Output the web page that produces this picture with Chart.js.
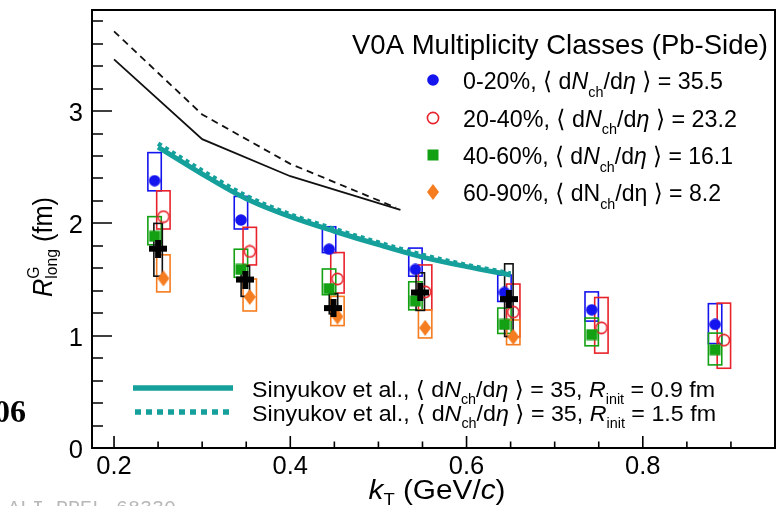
<!DOCTYPE html>
<html><head><meta charset="utf-8">
<script src="https://cdn.jsdelivr.net/npm/chart.js@4.4.0/dist/chart.umd.min.js"></script>
<style>html,body{margin:0;padding:0;background:#fff;overflow:hidden}</style>
</head><body>
<canvas id="c" width="784" height="506"></canvas>
<script>
// ---------- data ----------
const xTicks = [0.2, 0.4, 0.6, 0.8];
const yTicks = [0, 1, 2, 3];
const xLabels = ['0.2', '0.4', '0.6', '0.8'];
const yLabels = ['0', '1', '2', '3'];

// 0-20%
const kT_c1 = [0.246, 0.344, 0.444, 0.542, 0.643, 0.742, 0.882];
const R_c1 = [2.38, 2.03, 1.77, 1.59, 1.385, 1.23, 1.10];
const lo_c1 = [2.29, 1.95, 1.74, 1.53, 1.305, 1.13, 0.93];
const hi_c1 = [2.63, 2.24, 1.97, 1.78, 1.54, 1.39, 1.285];
// 20-40%
const kT_c2 = [0.256, 0.354, 0.4535, 0.553, 0.653, 0.753, 0.892];
const R_c2 = [2.06, 1.75, 1.505, 1.39, 1.21, 1.07, 0.96];
const lo_c2 = [1.95, 1.63, 1.38, 1.23, 0.99, 0.845, 0.71];
const hi_c2 = [2.29, 1.965, 1.74, 1.63, 1.46, 1.34, 1.29];
// 40-60%
const kT_c3 = [0.246, 0.344, 0.444, 0.542, 0.643, 0.742, 0.882];
const R_c3 = [1.885, 1.59, 1.42, 1.31, 1.10, 1.01, 0.875];
const lo_c3 = [1.81, 1.52, 1.365, 1.23, 1.02, 0.91, 0.74];
const hi_c3 = [2.06, 1.77, 1.594, 1.48, 1.246, 1.157, 1.023];
// 60-90%
const kT_c4 = [0.256, 0.354, 0.4535, 0.553, 0.653];
const R_c4 = [1.51, 1.345, 1.17, 1.07, 0.99];
const lo_c4 = [1.39, 1.22, 1.09, 0.98, 0.92];
const hi_c4 = [1.72, 1.505, 1.35, 1.23, 1.14];
// black crosses
const kT_blk = [0.25, 0.349, 0.449, 0.5475, 0.648];
const R_blk = [1.775, 1.50, 1.246, 1.385, 1.326];
const lo_blk = [1.53, 1.35, 1.195, 1.225, 0.993];
const hi_blk = [2.0, 1.62, 1.374, 1.56, 1.64];

// model curves
const kT_hSolid = [0.2, 0.3, 0.4, 0.525];
const R_hSolid = [3.46, 2.75, 2.42, 2.12];
const kT_hDash = [0.2, 0.3, 0.4, 0.52];
const R_hDash = [3.71, 2.97, 2.53, 2.14];
const kT_siny = [0.25, 0.3, 0.35, 0.4, 0.45, 0.5, 0.55, 0.6, 0.65];
const R_siny09 = [2.68, 2.44, 2.22, 2.06, 1.93, 1.81, 1.70, 1.615, 1.54];
const R_siny15 = [2.71, 2.47, 2.245, 2.08, 1.95, 1.83, 1.72, 1.63, 1.555];

// ---------- styles ----------
const C = {blue:'#1414ee', red:'#e8222a', green:'#13a013', orange:'#f57c1f', black:'#000', teal:'#15a09b'};
const FONT = '"Liberation Sans","DejaVu Sans",Arial,sans-serif';

function mk(w,h,draw){const c=document.createElement('canvas');c.width=w;c.height=h;draw(c.getContext('2d'),w,h);return c;}
const mBlue = mk(12,12,g=>{g.fillStyle=C.blue;g.beginPath();g.arc(6,6,5.8,0,2*Math.PI);g.fill();});
const mRed = mk(14,14,g=>{g.strokeStyle=C.red;g.lineWidth=1.6;g.beginPath();g.arc(7,7,5.6,0,2*Math.PI);g.stroke();});
const mGreen = mk(12,12,g=>{g.fillStyle=C.green;g.fillRect(0.5,0.5,11,11);});
const mOrange = mk(12,16,g=>{g.fillStyle=C.orange;g.beginPath();g.moveTo(6,0);g.lineTo(12,8);g.lineTo(6,16);g.lineTo(0,8);g.closePath();g.fill();});
const mCross = mk(18,18,g=>{g.fillStyle='#000';g.fillRect(6,0,6,18);g.fillRect(0,6,18,6);});

function pts(xs, ys){return xs.map((x,i)=>({x:x, y:ys[i]}));}

const boxSets = [
  {kT:kT_c1, lo:lo_c1, hi:hi_c1, color:C.blue, hw:0.0076},
  {kT:kT_c2, lo:lo_c2, hi:hi_c2, color:C.red, hw:0.0076},
  {kT:kT_c3, lo:lo_c3, hi:hi_c3, color:C.green, hw:0.0076},
  {kT:kT_c4, lo:lo_c4, hi:hi_c4, color:C.orange, hw:0.0076},
  {kT:kT_blk, lo:lo_blk, hi:hi_blk, color:'#111', hw:0.0048}
];

function fnt(size, it, bold){return (it?'italic ':'')+(bold?'bold ':'')+size+'px '+FONT;}
function richW(ctx, parts, size, ss){
  let w=0; for(const p of parts){ if(p.na) continue; const s=(p.sub||p.sup)?size*ss:size; ctx.font=fnt(s,p.i); w+=ctx.measureText(p.t).width;} return w;}
function drawRich(ctx, parts, x, y, o){
  const size=o.size, ss=o.ss||0.62;
  const W=richW(ctx,parts,size,ss); const sx=o.width?o.width/W:1;
  ctx.save(); ctx.translate(x,y); if(o.rot) ctx.rotate(-Math.PI/2); ctx.scale(sx,1);
  let cx = o.align==='right'?-W:(o.align==='center'?-W/2:0);
  ctx.fillStyle=o.color||'#000'; ctx.textBaseline='alphabetic'; ctx.textAlign='left';
  for(const p of parts){
    const s=(p.sub||p.sup)?size*ss:size; ctx.font=fnt(s,p.i,o.bold);
    const dy=p.sub?size*(o.subDy!=null?o.subDy:0.3):(p.sup?-size*(o.supDy||0.42):0);
    ctx.fillText(p.t,cx,dy); if(!p.na) cx+=ctx.measureText(p.t).width;
  }
  ctx.restore();
}

const annot = {
  id:'annot',
  beforeDatasetsDraw(chart){
    const ctx=chart.ctx, xs=chart.scales.x, ys=chart.scales.y;
    ctx.save();
    ctx.beginPath(); ctx.rect(chart.chartArea.left, chart.chartArea.top, chart.chartArea.right-chart.chartArea.left, chart.chartArea.bottom-chart.chartArea.top); ctx.clip();
    ctx.lineWidth=1.6;
    for(const b of boxSets){
      ctx.strokeStyle=b.color;
      b.kT.forEach((k,i)=>{
        const x1=xs.getPixelForValue(k-b.hw), x2=xs.getPixelForValue(k+b.hw);
        const y1=ys.getPixelForValue(b.hi[i]), y2=ys.getPixelForValue(b.lo[i]);
        ctx.strokeRect(x1,y1,x2-x1,y2-y1);
      });
    }
    ctx.restore();
  },
  afterDraw(chart){
    const ctx=chart.ctx, xs=chart.scales.x, ys=chart.scales.y, a=chart.chartArea;
    ctx.save();
    // frame
    ctx.strokeStyle='#000'; ctx.lineWidth=2;
    ctx.strokeRect(a.left, a.top, a.right-a.left, a.bottom-a.top);
    // ticks
    ctx.lineWidth=1.6; ctx.beginPath();
    for(let v=0; v<=3.85; v+=0.2){
      const y=Math.round(ys.getPixelForValue(v));
      const major=Math.abs(v-Math.round(v))<1e-6;
      ctx.moveTo(a.left,y); ctx.lineTo(a.left+(major?20:11),y);
    }
    for(let v=0.2; v<=0.951; v+=0.05){
      const x=xs.getPixelForValue(v);
      const major=Math.abs(v*5-Math.round(v*5))<1e-6;
      ctx.moveTo(x,a.bottom); ctx.lineTo(x,a.bottom-(major?12:6.5));
    }
    ctx.stroke();
    // tick labels
    xTicks.forEach((v,i)=>drawRich(ctx,[{t:xLabels[i]}],xs.getPixelForValue(v),474,{size:25.5,align:'center'}));
    yTicks.forEach((v,i)=>drawRich(ctx,[{t:yLabels[i]}],83,ys.getPixelForValue(v)+10,{size:25.5,align:'right'}));
    // axis titles
    drawRich(ctx,[{t:'k',i:1},{t:'T',sub:1},{t:' (GeV/'},{t:'c',i:1},{t:')'}],437,499,{size:27,align:'center',width:137,subDy:0.22});
    drawRich(ctx,[{t:'R',i:1},{t:'G',sup:1,na:1},{t:'long',sub:1},{t:' (fm)'}],52,297,{size:27,rot:true,width:100,subDy:0.2,supDy:0.5});
    // top legend
    drawRich(ctx,[{t:'V0A Multiplicity Classes (Pb-Side)'}],352,53.5,{size:28,width:416});
    const rowsY=[89.3,127,164.3,201.3];
    const rowsW=[260,274,270,258];
    const rowMk=[mBlue,mRed,mGreen,mOrange];
    const rowTxt=[
      [{t:'0-20%, \u27E8 d'},{t:'N',i:1},{t:'ch',sub:1},{t:'/d'},{t:'\u03B7',i:1},{t:' \u27E9 = 35.5'}],
      [{t:'20-40%, \u27E8 d'},{t:'N',i:1},{t:'ch',sub:1},{t:'/d'},{t:'\u03B7',i:1},{t:' \u27E9 = 23.2'}],
      [{t:'40-60%, \u27E8 d'},{t:'N',i:1},{t:'ch',sub:1},{t:'/d'},{t:'\u03B7',i:1},{t:' \u27E9 = 16.1'}],
      [{t:'60-90%, \u27E8 dN'},{t:'ch',sub:1},{t:'/d\u03B7 \u27E9 = 8.2'}]
    ];
    rowsY.forEach((y,i)=>{
      const m=rowMk[i]; ctx.drawImage(m,433-m.width/2,Math.round(y-9.5-m.height/2));
      drawRich(ctx,rowTxt[i],463,y,{size:24,width:rowsW[i]});
    });
    // bottom legend
    ctx.strokeStyle=C.teal; ctx.lineWidth=5.5;
    ctx.beginPath(); ctx.moveTo(133,388); ctx.lineTo(233,388); ctx.stroke();
    ctx.setLineDash([6,5]); ctx.beginPath(); ctx.moveTo(135,412); ctx.lineTo(233,412); ctx.stroke(); ctx.setLineDash([]);
    drawRich(ctx,[{t:'Sinyukov et al., \u27E8 d'},{t:'N',i:1},{t:'ch',sub:1},{t:'/d'},{t:'\u03B7',i:1},{t:' \u27E9 = 35, '},{t:'R',i:1},{t:'init',sub:1},{t:' = 0.9 fm'}],252,397,{size:22.5,width:463});
    drawRich(ctx,[{t:'Sinyukov et al., \u27E8 d'},{t:'N',i:1},{t:'ch',sub:1},{t:'/d'},{t:'\u03B7',i:1},{t:' \u27E9 = 35, '},{t:'R',i:1},{t:'init',sub:1},{t:' = 1.5 fm'}],252,421,{size:22.5,width:464});
    // stray page fragments
    ctx.font='bold 32px "Liberation Serif","DejaVu Serif",serif'; ctx.fillStyle='#000'; ctx.textAlign='right'; ctx.textBaseline='alphabetic';
    ctx.fillText('06',26,422);
    ctx.font='20px "Liberation Mono","DejaVu Sans Mono",monospace'; ctx.fillStyle='#b8b8b8'; ctx.textAlign='left';
    ctx.fillText('ALI-PREL-68330',8,514);
    ctx.restore();
  }
};

const lineDs = (xs, ys, color, width, dash, tension, order) => ({
  data: pts(xs, ys), showLine:true, borderColor:color, borderWidth:width, borderDash:dash||[],
  pointRadius:0, tension:tension, cubicInterpolationMode: tension?'monotone':'default', fill:false, order:order
});
const markDs = (xs, ys, style, order) => ({
  data: pts(xs, ys), showLine:false, pointStyle:style, pointRadius:5, pointHoverRadius:5, order:order
});

new Chart(document.getElementById('c'), {
  type:'scatter',
  data:{datasets:[
    lineDs(kT_hSolid, R_hSolid, '#111', 1.8, null, 0, 20),
    lineDs(kT_hDash, R_hDash, '#111', 1.8, [7,5], 0, 20),
    lineDs(kT_siny, R_siny15, C.teal, 4.5, [4,4], 0.4, 11),
    lineDs(kT_siny, R_siny09, C.teal, 5, null, 0.4, 10),
    markDs(kT_c1, R_c1, mBlue, 4),
    markDs(kT_c2, R_c2, mRed, 4),
    markDs(kT_c3, R_c3, mGreen, 3),
    markDs(kT_c4, R_c4, mOrange, 3),
    markDs(kT_blk, R_blk, mCross, 0)
  ]},
  options:{
    responsive:false, animation:false, devicePixelRatio:1,
    layout:{padding:{left:0, right:9, top:10, bottom:0}},
    plugins:{legend:{display:false}, tooltip:{enabled:false}},
    events:[],
    scales:{
      x:{type:'linear', min:0.175, max:0.95, grid:{display:false}, border:{display:false}, ticks:{display:false}, afterFit(s){s.height=58;}},
      y:{type:'linear', min:0, max:3.9, grid:{display:false}, border:{display:false}, ticks:{display:false}, afterFit(s){s.width=92;}}
    }
  },
  plugins:[annot]
});
</script>
</body></html>
